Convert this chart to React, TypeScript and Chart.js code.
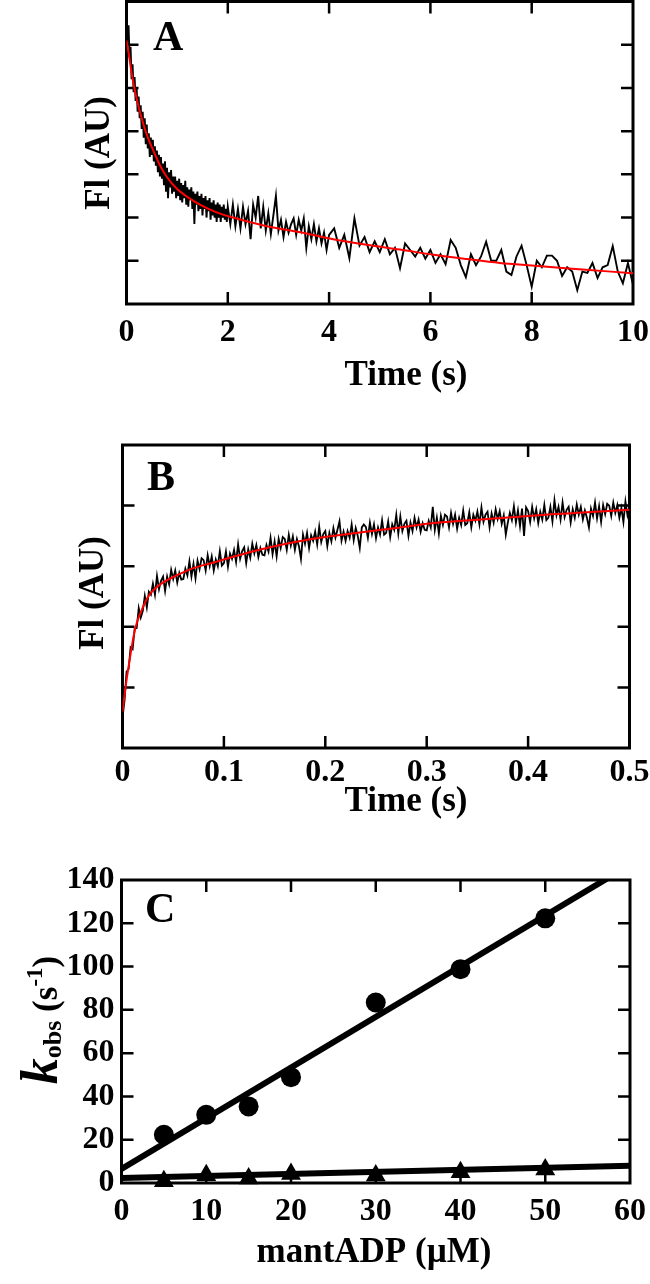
import React, { useEffect, useRef } from 'react';
import { Chart, registerables } from 'chart.js';

Chart.register(...registerables);

const FONT = '"Liberation Serif", "Times New Roman", serif';

// ---------- Panel A: fluorescence decay (time in s, arbitrary units) ----------
const A_X_TICKS = [0, 2, 4, 6, 8, 10];
const A_X_LABELS = ['0', '2', '4', '6', '8', '10'];
const A_Y_TICKS = [0, 1, 2, 3, 4, 5, 6, 7];

const A_FIT = [
  [0, 6.1], [0.05, 5.75], [0.1, 5.35], [0.2, 4.75], [0.3, 4.3], [0.4, 3.92], [0.53, 3.55],
  [0.66, 3.21], [0.79, 2.95], [1.0, 2.66], [1.2, 2.48], [1.45, 2.3], [1.78, 2.12], [2.1, 2.0],
  [2.77, 1.8], [3.43, 1.66], [4.08, 1.5], [4.74, 1.37], [5.4, 1.26], [6.06, 1.14], [6.72, 1.04],
  [7.37, 0.95], [8.0, 0.89], [9.0, 0.8], [10, 0.71],
];

const A_TRACE = [
  [0, 6.55], [0.02, 6.2], [0.04, 6.45], [0.06, 5.7], [0.08, 5.95], [0.1, 5.2], [0.12, 5.55], [0.14, 4.9],
  [0.16, 5.25], [0.18, 4.7], [0.2, 5.0], [0.22, 4.45], [0.24, 4.8], [0.26, 4.3], [0.28, 4.6], [0.3, 4.05],
  [0.32, 4.45], [0.34, 3.85], [0.36, 4.3], [0.38, 3.7], [0.4, 4.15], [0.42, 3.6], [0.44, 3.95], [0.46, 3.4],
  [0.48, 3.85], [0.5, 3.45], [0.52, 3.8], [0.54, 3.3], [0.56, 3.65], [0.58, 3.2], [0.6, 3.55], [0.62, 3.05],
  [0.64, 3.45], [0.66, 2.95], [0.68, 3.4], [0.7, 2.9], [0.72, 3.25], [0.74, 2.75], [0.76, 3.3], [0.78, 2.6],
  [0.8, 3.15], [0.82, 2.45], [0.84, 3.05], [0.86, 2.7], [0.88, 3.1], [0.9, 2.55], [0.92, 2.95], [0.94, 2.6],
  [0.96, 2.95], [0.98, 2.45], [1.0, 2.85], [1.02, 2.5], [1.04, 2.9], [1.06, 2.4], [1.08, 2.8], [1.1, 2.35],
  [1.12, 2.75], [1.14, 2.45], [1.16, 2.85], [1.18, 2.3], [1.2, 2.7], [1.22, 2.25], [1.24, 2.65], [1.26, 2.4],
  [1.28, 2.7], [1.3, 2.2], [1.32, 2.6], [1.34, 1.85], [1.36, 2.55], [1.38, 2.3], [1.4, 2.6], [1.42, 2.15],
  [1.44, 2.5], [1.46, 2.2], [1.48, 2.55], [1.5, 2.05], [1.52, 2.45], [1.54, 2.2], [1.56, 2.5], [1.58, 2.0],
  [1.6, 2.4], [1.62, 2.15], [1.64, 2.45], [1.66, 1.95], [1.68, 2.35], [1.7, 2.05], [1.72, 2.4], [1.74, 2.0],
  [1.76, 2.3], [1.78, 1.9], [1.8, 2.35], [1.82, 2.0], [1.84, 2.3], [1.86, 1.9], [1.88, 2.25], [1.9, 2.0],
  [1.92, 2.3], [1.94, 1.95], [1.96, 2.2], [1.98, 1.9], [2.0, 2.25],
  [2.05, 1.85], [2.1, 2.3], [2.15, 1.8], [2.2, 2.2], [2.25, 1.75], [2.3, 2.25], [2.35, 1.85], [2.4, 2.15],
  [2.45, 1.5], [2.5, 2.3], [2.55, 2.0], [2.6, 2.5], [2.65, 1.75], [2.7, 2.25], [2.75, 1.7], [2.8, 2.1],
  [2.85, 1.62], [2.9, 2.05], [2.95, 2.5], [3.0, 1.7], [3.05, 1.95], [3.1, 1.55], [3.15, 1.9], [3.2, 1.65],
  [3.25, 1.85], [3.3, 1.98], [3.35, 1.6], [3.4, 1.95], [3.45, 1.7], [3.5, 1.98], [3.55, 1.3], [3.6, 1.8],
  [3.65, 1.5], [3.7, 1.85], [3.75, 1.45], [3.8, 1.75], [3.85, 1.4], [3.9, 1.65], [3.95, 1.25], [4.0, 1.6],
  [4.1, 1.75], [4.2, 1.3], [4.3, 1.6], [4.4, 1.06], [4.5, 1.98], [4.6, 1.35], [4.7, 1.55], [4.8, 1.2],
  [4.9, 1.45], [5.0, 1.2], [5.1, 1.5], [5.2, 1.15], [5.3, 1.3], [5.4, 0.83], [5.5, 1.4], [5.6, 1.25],
  [5.7, 1.1], [5.8, 1.3], [5.9, 1.05], [6.0, 1.25], [6.1, 0.95], [6.2, 1.15], [6.3, 0.92], [6.4, 1.48],
  [6.5, 1.3], [6.6, 0.9], [6.7, 0.62], [6.8, 1.15], [6.9, 0.9], [7.0, 1.1], [7.1, 1.44], [7.2, 1.0],
  [7.3, 1.0], [7.4, 1.25], [7.5, 0.75], [7.6, 0.67], [7.7, 1.1], [7.8, 1.35], [7.9, 0.9], [8.0, 0.4],
  [8.1, 1.0], [8.2, 0.85], [8.3, 1.12], [8.4, 1.12], [8.5, 1.0], [8.6, 0.65], [8.7, 0.85], [8.8, 0.75],
  [8.9, 0.32], [9.0, 0.75], [9.1, 0.72], [9.2, 0.95], [9.3, 0.6], [9.4, 0.85], [9.5, 0.9], [9.6, 1.34],
  [9.7, 0.75], [9.8, 0.48], [9.9, 0.95], [10.0, 0.45],
];

// ---------- Panel B: fluorescence rise (time in s) ----------
const B_X_TICKS = [0, 0.1, 0.2, 0.3, 0.4, 0.5];
const B_X_LABELS = ['0', '0.1', '0.2', '0.3', '0.4', '0.5'];
const B_Y_TICKS = [0, 1, 2, 3, 4, 5];

const B_FIT = [
  [0, 0.6], [0.004, 1.12], [0.0075, 1.5], [0.011, 1.85], [0.014, 2.06], [0.019, 2.28], [0.024, 2.46],
  [0.029, 2.58], [0.039, 2.72], [0.055, 2.86], [0.072, 2.98], [0.09, 3.06], [0.104, 3.13], [0.137, 3.28],
  [0.17, 3.4], [0.203, 3.49], [0.236, 3.56], [0.27, 3.63], [0.3, 3.7], [0.335, 3.75], [0.37, 3.79],
  [0.4, 3.83], [0.45, 3.88], [0.5, 3.93],
];

const B_TRACE = [
  [0, 0.5], [0.002, 0.78], [0.004, 1.26], [0.006, 1.3], [0.008, 1.66], [0.01, 1.63], [0.012, 1.97], [0.014, 1.98], [0.016, 2.31], [0.018, 2.15],
  [0.02, 2.26], [0.022, 2.51], [0.024, 2.32], [0.026, 2.58], [0.028, 2.53], [0.03, 2.71], [0.032, 2.53], [0.034, 2.84], [0.036, 2.62], [0.038, 2.76],
  [0.04, 2.83], [0.042, 2.59], [0.044, 2.83], [0.046, 2.7], [0.048, 2.94], [0.05, 2.79], [0.052, 2.93], [0.054, 2.73], [0.056, 2.89], [0.058, 2.78],
  [0.06, 2.79], [0.062, 2.96], [0.064, 2.85], [0.066, 3.08], [0.068, 2.83], [0.07, 3.04], [0.072, 2.8], [0.074, 3.09], [0.076, 2.95], [0.078, 3.13],
  [0.08, 3.1], [0.082, 2.93], [0.084, 3.18], [0.086, 3.0], [0.088, 3.16], [0.09, 2.93], [0.092, 3.11], [0.094, 3.0], [0.096, 3.25], [0.098, 3.01],
  [0.1, 3.05], [0.102, 3.24], [0.104, 2.99], [0.106, 3.21], [0.108, 3.12], [0.11, 3.27], [0.112, 3.07], [0.114, 3.36], [0.116, 3.12], [0.118, 3.25],
  [0.12, 3.31], [0.122, 3.05], [0.124, 3.28], [0.126, 3.14], [0.128, 3.37], [0.13, 3.21], [0.132, 3.35], [0.134, 3.15], [0.136, 3.3], [0.138, 3.19],
  [0.14, 3.18], [0.142, 3.35], [0.144, 3.24], [0.146, 3.47], [0.148, 3.2], [0.15, 3.41], [0.152, 3.16], [0.154, 3.45], [0.156, 3.3], [0.158, 3.48],
  [0.16, 3.45], [0.162, 3.27], [0.164, 3.52], [0.166, 3.34], [0.168, 3.49], [0.17, 3.27], [0.172, 3.45], [0.174, 3.33], [0.176, 3.12], [0.178, 3.52],
  [0.18, 3.37], [0.182, 3.55], [0.184, 3.3], [0.186, 3.51], [0.188, 3.42], [0.19, 3.57], [0.192, 3.36], [0.194, 3.65], [0.196, 3.4], [0.198, 3.53],
  [0.2, 3.58], [0.202, 3.33], [0.204, 3.55], [0.206, 3.41], [0.208, 3.63], [0.21, 3.47], [0.212, 3.6], [0.214, 3.74], [0.216, 3.42], [0.218, 3.57],
  [0.22, 3.42], [0.222, 3.58], [0.224, 3.47], [0.226, 3.69], [0.228, 3.43], [0.23, 3.63], [0.232, 3.5], [0.234, 3.3], [0.236, 3.64], [0.238, 3.69],
  [0.24, 3.65], [0.242, 3.47], [0.244, 3.72], [0.246, 3.53], [0.248, 3.69], [0.25, 3.46], [0.252, 3.64], [0.254, 3.52], [0.256, 3.76], [0.258, 3.52],
  [0.26, 3.55], [0.262, 3.74], [0.264, 3.48], [0.266, 3.69], [0.268, 3.6], [0.27, 3.85], [0.272, 3.54], [0.274, 3.82], [0.276, 3.58], [0.278, 3.7],
  [0.28, 3.75], [0.282, 3.5], [0.284, 3.72], [0.286, 3.58], [0.288, 3.8], [0.29, 3.64], [0.292, 3.77], [0.294, 3.57], [0.296, 3.71], [0.298, 3.6],
  [0.3, 3.59], [0.302, 3.75], [0.304, 3.64], [0.306, 3.98], [0.308, 3.6], [0.31, 3.8], [0.312, 3.54], [0.314, 3.83], [0.316, 3.68], [0.318, 3.85],
  [0.32, 3.82], [0.322, 3.64], [0.324, 3.88], [0.326, 3.7], [0.328, 3.85], [0.33, 3.62], [0.332, 3.8], [0.334, 3.68], [0.336, 3.92], [0.338, 3.68],
  [0.34, 3.71], [0.342, 3.89], [0.344, 3.64], [0.346, 3.85], [0.348, 3.75], [0.35, 3.9], [0.352, 3.69], [0.354, 3.97], [0.356, 3.73], [0.358, 3.85],
  [0.36, 3.9], [0.362, 3.64], [0.364, 3.87], [0.366, 3.72], [0.368, 3.94], [0.37, 3.78], [0.372, 3.91], [0.374, 3.7], [0.376, 3.84], [0.378, 3.52],
  [0.38, 3.72], [0.382, 3.88], [0.384, 3.76], [0.386, 3.99], [0.388, 3.72], [0.39, 3.92], [0.392, 3.66], [0.394, 3.95], [0.396, 3.5], [0.398, 3.97],
  [0.4, 3.91], [0.402, 3.73], [0.404, 3.98], [0.406, 3.79], [0.408, 3.94], [0.41, 3.71], [0.412, 3.9], [0.414, 3.77], [0.416, 4.01], [0.418, 3.76],
  [0.42, 3.8], [0.422, 3.98], [0.424, 3.74], [0.426, 4.09], [0.428, 3.84], [0.43, 3.98], [0.432, 3.77], [0.434, 4.05], [0.436, 3.81], [0.438, 3.93],
  [0.44, 3.98], [0.442, 3.72], [0.444, 3.94], [0.446, 3.8], [0.448, 4.02], [0.45, 3.85], [0.452, 3.98], [0.454, 3.77], [0.456, 3.92], [0.458, 3.8],
  [0.46, 3.64], [0.462, 3.95], [0.464, 3.83], [0.466, 4.05], [0.468, 3.79], [0.47, 3.99], [0.472, 3.73], [0.474, 4.01], [0.476, 3.86], [0.478, 4.03],
  [0.48, 4.0], [0.482, 3.83], [0.484, 4.05], [0.486, 3.88], [0.488, 4.01], [0.49, 3.8], [0.492, 3.96], [0.494, 3.73], [0.496, 4.07], [0.498, 3.84],
  [0.5, 3.98],
];

// ---------- Panel C: kobs vs [mantADP] ----------
const C_X_TICKS = [0, 10, 20, 30, 40, 50, 60];
const C_X_LABELS = ['0', '10', '20', '30', '40', '50', '60'];
const C_Y_TICKS = [0, 20, 40, 60, 80, 100, 120, 140];
const C_Y_LABELS = ['0', '20', '40', '60', '80', '100', '120', '140'];
const C_CONC = [5, 10, 15, 20, 30, 40, 50];
const C_FAST = [22.3, 31.5, 35.4, 48.9, 83.4, 98.8, 122.3];
const C_SLOW = [0.8, 3.6, 2.1, 4.2, 3.5, 5.0, 6.2];
const C_FAST_FIT_X = [0, 60];
const C_FAST_FIT_Y = [6.5, 147];
const C_SLOW_FIT_X = [0, 60];
const C_SLOW_FIT_Y = [2.3, 8.0];

const toXY = (pairs: number[][]) => pairs.map(([x, y]) => ({ x, y }));
const zipXY = (xs: number[], ys: number[]) => xs.map((x, i) => ({ x, y: ys[i] }));

type TextItem = {
  text?: string;
  rich?: { t: string; font: string; dy: number }[];
  x: number;
  y: number;
  font?: string;
  align?: CanvasTextAlign;
  rotate?: boolean;
};

function makeDecor(key: string, texts: TextItem[], tickLen = 12) {
  return {
    id: 'decor_' + key,
    beforeDatasetsDraw(chart: any) {
      const { ctx, chartArea } = chart;
      const { left, right, top, bottom } = chartArea;
      const xs = chart.scales.x;
      const ys = chart.scales.y;
      ctx.save();
      ctx.strokeStyle = '#000';
      ctx.lineWidth = 2.5;
      ctx.beginPath();
      for (const t of xs.ticks) {
        const px = xs.getPixelForValue(t.value);
        if (px <= left + 2 || px >= right - 2) continue;
        ctx.moveTo(px, bottom);
        ctx.lineTo(px, bottom - tickLen);
        ctx.moveTo(px, top);
        ctx.lineTo(px, top + tickLen);
      }
      for (const t of ys.ticks) {
        const py = ys.getPixelForValue(t.value);
        if (py <= top + 2 || py >= bottom - 2) continue;
        ctx.moveTo(left, py);
        ctx.lineTo(left + tickLen, py);
        ctx.moveTo(right, py);
        ctx.lineTo(right - tickLen, py);
      }
      ctx.stroke();
      ctx.lineWidth = 3;
      ctx.strokeRect(left, top, right - left, bottom - top);
      ctx.restore();
    },
    afterDraw(chart: any) {
      const { ctx } = chart;
      ctx.save();
      ctx.fillStyle = '#000';
      ctx.textBaseline = 'alphabetic';
      for (const it of texts) {
        ctx.save();
        ctx.translate(it.x, it.y);
        if (it.rotate) ctx.rotate(-Math.PI / 2);
        if (it.rich) {
          let total = 0;
          for (const s of it.rich) {
            ctx.font = s.font;
            total += ctx.measureText(s.t).width;
          }
          let cx = -total / 2;
          ctx.textAlign = 'left';
          for (const s of it.rich) {
            ctx.font = s.font;
            ctx.fillText(s.t, cx, s.dy);
            cx += ctx.measureText(s.t).width;
          }
        } else {
          ctx.font = it.font || `bold 35px ${FONT}`;
          ctx.textAlign = it.align || 'center';
          ctx.fillText(it.text || '', 0, 0);
        }
        ctx.restore();
      }
      ctx.restore();
    },
  };
}

function xAxis(ticks: number[], labels: string[], padding: number, height: number) {
  return {
    type: 'linear',
    position: 'bottom',
    min: ticks[0],
    max: ticks[ticks.length - 1],
    afterBuildTicks: (s: any) => {
      s.ticks = ticks.map((v) => ({ value: v }));
    },
    afterFit: (s: any) => {
      s.height = height;
      s.paddingLeft = 0;
      s.paddingRight = 0;
      s.paddingTop = 0;
      s.paddingBottom = 0;
    },
    grid: { display: false, drawTicks: false },
    border: { display: false },
    ticks: {
      autoSkip: false,
      maxRotation: 0,
      minRotation: 0,
      padding,
      color: '#000',
      font: { family: FONT, size: 32, weight: 'bold' },
      callback: (_v: any, i: number) => labels[i],
    },
  };
}

function yAxis(ticks: number[], labels: string[] | null, padding: number, width: number) {
  return {
    type: 'linear',
    position: 'left',
    min: ticks[0],
    max: ticks[ticks.length - 1],
    afterBuildTicks: (s: any) => {
      s.ticks = ticks.map((v) => ({ value: v }));
    },
    afterFit: (s: any) => {
      s.width = width;
      s.paddingLeft = 0;
      s.paddingRight = 0;
      s.paddingTop = 0;
      s.paddingBottom = 0;
    },
    grid: { display: false, drawTicks: false },
    border: { display: false },
    ticks: {
      display: !!labels,
      autoSkip: false,
      padding,
      color: '#000',
      font: { family: FONT, size: 32, weight: 'bold' },
      callback: (_v: any, i: number) => (labels ? labels[i] : ''),
    },
  };
}

const baseOptions = {
  animation: false,
  responsive: false,
  maintainAspectRatio: false,
  devicePixelRatio: 1,
  events: [],
  plugins: { legend: { display: false }, tooltip: { enabled: false } },
};

export default function App() {
  const refA = useRef<HTMLCanvasElement>(null);
  const refB = useRef<HTMLCanvasElement>(null);
  const refC = useRef<HTMLCanvasElement>(null);

  useEffect(() => {
    const charts: Chart[] = [];
    const W = 650;

    // Panel A (canvas 650x420 at page y 0)
    {
      const H = 420;
      const L = 126.5, R = 633, T = 1.5, B = 304;
      charts.push(
        new Chart(refA.current as HTMLCanvasElement, {
          type: 'scatter',
          data: {
            datasets: [
              {
                data: toXY(A_FIT),
                showLine: true,
                borderColor: '#ff0000',
                borderWidth: 2,
                pointRadius: 0,
                cubicInterpolationMode: 'monotone',
              },
              {
                data: toXY(A_TRACE),
                showLine: true,
                borderColor: '#000',
                borderWidth: 1.9,
                pointRadius: 0,
              },
            ],
          },
          options: {
            ...baseOptions,
            layout: { padding: { top: T, right: W - R, left: 0, bottom: 0 } },
            scales: {
              x: xAxis(A_X_TICKS, A_X_LABELS, 10, H - B),
              y: yAxis(A_Y_TICKS, null, 0, L),
            },
          } as any,
          plugins: [
            makeDecor('A', [
              { text: 'A', x: 153, y: 50, font: `bold 42px ${FONT}`, align: 'left' },
              { text: 'Time (s)', x: 406, y: 385 },
              { text: 'Fl (AU)', x: 108.5, y: 153, rotate: true },
            ]),
          ],
        } as any)
      );
    }

    // Panel B (canvas 650x420 at page y 420)
    {
      const H = 420;
      const L = 122.5, R = 629.5, T = 25, B = 328;
      charts.push(
        new Chart(refB.current as HTMLCanvasElement, {
          type: 'scatter',
          data: {
            datasets: [
              {
                data: toXY(B_FIT),
                showLine: true,
                borderColor: '#ff0000',
                borderWidth: 2,
                pointRadius: 0,
                cubicInterpolationMode: 'monotone',
              },
              {
                data: toXY(B_TRACE),
                showLine: true,
                borderColor: '#000',
                borderWidth: 1.8,
                pointRadius: 0,
              },
            ],
          },
          options: {
            ...baseOptions,
            layout: { padding: { top: T, right: W - R, left: 0, bottom: 0 } },
            scales: {
              x: xAxis(B_X_TICKS, B_X_LABELS, 6, H - B),
              y: yAxis(B_Y_TICKS, null, 0, L),
            },
          } as any,
          plugins: [
            makeDecor('B', [
              { text: 'B', x: 147, y: 69.5, font: `bold 42px ${FONT}`, align: 'left' },
              { text: 'Time (s)', x: 406, y: 390.5 },
              { text: 'Fl (AU)', x: 102.5, y: 173, rotate: true },
            ]),
          ],
        } as any)
      );
    }

    // Panel C (canvas 650x444 at page y 840)
    {
      const H = 444;
      const L = 121.5, R = 630, T = 40, B = 343;
      charts.push(
        new Chart(refC.current as HTMLCanvasElement, {
          type: 'scatter',
          data: {
            datasets: [
              {
                data: zipXY(C_CONC, C_FAST),
                pointStyle: 'circle',
                pointRadius: 10,
                pointBorderWidth: 0,
                backgroundColor: '#000',
                borderColor: '#000',
                showLine: false,
                clip: false,
              },
              {
                data: zipXY(C_CONC, C_SLOW),
                pointStyle: 'triangle',
                pointRadius: 11.5,
                pointBorderWidth: 0,
                backgroundColor: '#000',
                borderColor: '#000',
                showLine: false,
                clip: false,
              },
              {
                data: zipXY(C_FAST_FIT_X, C_FAST_FIT_Y),
                showLine: true,
                borderColor: '#000',
                borderWidth: 6,
                pointRadius: 0,
                clip: 0,
              },
              {
                data: zipXY(C_SLOW_FIT_X, C_SLOW_FIT_Y),
                showLine: true,
                borderColor: '#000',
                borderWidth: 6,
                pointRadius: 0,
                clip: 0,
              },
            ],
          },
          options: {
            ...baseOptions,
            layout: { padding: { top: T, right: W - R, left: 0, bottom: 0 } },
            scales: {
              x: xAxis(C_X_TICKS, C_X_LABELS, 10, H - B),
              y: yAxis(C_Y_TICKS, C_Y_LABELS, 7, L),
            },
          } as any,
          plugins: [
            makeDecor('C', [
              { text: 'C', x: 145, y: 81.5, font: `bold 42px ${FONT}`, align: 'left' },
              { text: 'mantADP (µM)', x: 374, y: 421.5 },
              {
                x: 57,
                y: 180,
                rotate: true,
                rich: [
                  { t: 'k', font: `italic bold 52px ${FONT}`, dy: 0 },
                  { t: 'obs', font: `bold 26px ${FONT}`, dy: 4 },
                  { t: ' (s', font: `bold 35px ${FONT}`, dy: 0 },
                  { t: '-1', font: `bold 23px ${FONT}`, dy: -15 },
                  { t: ')', font: `bold 35px ${FONT}`, dy: 0 },
                ],
              },
            ]),
          ],
        } as any)
      );
    }

    return () => {
      charts.forEach((c) => c.destroy());
    };
  }, []);

  const canvasStyle = (top: number, h: number): React.CSSProperties => ({
    position: 'absolute',
    left: 0,
    top,
    width: 650,
    height: h,
    display: 'block',
  });

  return (
    <div style={{ position: 'absolute', left: 0, top: 0, width: 650, height: 1284, background: '#fff', overflow: 'hidden' }}>
      <canvas ref={refA} width={650} height={420} style={canvasStyle(0, 420)} />
      <canvas ref={refB} width={650} height={420} style={canvasStyle(420, 420)} />
      <canvas ref={refC} width={650} height={444} style={canvasStyle(840, 444)} />
    </div>
  );
}
